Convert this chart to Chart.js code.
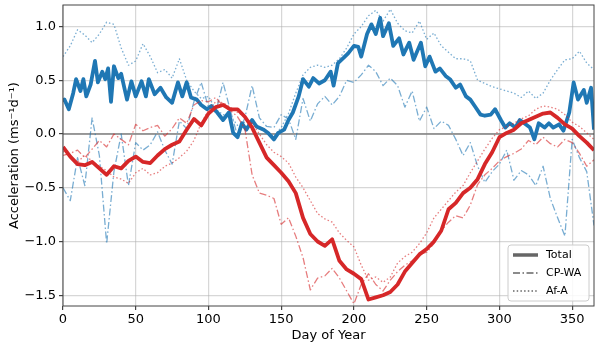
<!DOCTYPE html>
<html>
<head>
<meta charset="utf-8">
<script src="https://cdn.jsdelivr.net/npm/chart.js@4/dist/chart.umd.min.js"></script>
<style>
  html, body { margin: 0; padding: 0; background: #fff; }
  #chart { display: block; }
</style>
</head>
<body>
<canvas id="chart" width="600" height="348"></canvas>
<script>
  // day of year, sampled every 5 days (components and red total)
  const days = [];
  for (let d = 0; d <= 365; d += 5) days.push(d);

  // blue total read at finer spacing
  const blueTotalDays = [
    0, 1, 4, 7, 9, 12, 14, 16, 19, 22, 24, 27, 29, 31, 33, 35, 38, 40, 44, 47,
    50, 54, 57, 59, 63, 67, 71, 75, 79, 82, 85, 88, 92, 95, 99, 102, 106, 110, 114, 117,
    120, 123, 126, 130, 133, 138, 141, 145, 148, 152, 155, 158, 162, 165, 169, 172, 176, 180, 184, 186,
    189, 193, 196, 200, 203, 205, 209, 212, 215, 218, 220, 224, 227, 231, 234, 238, 241, 246, 249, 252,
    256, 259, 263, 266, 270, 273, 277, 280, 283, 287, 290, 294, 297, 301, 304, 307, 311, 314, 318, 321,
    324, 327, 331, 334, 337, 341, 344, 348, 351, 354, 358, 360, 363, 365
  ];
  const blueTotal = [
    0.30, 0.32, 0.23, 0.38, 0.51, 0.40, 0.51, 0.35, 0.46, 0.68, 0.48, 0.58, 0.51, 0.61, 0.30, 0.63, 0.52, 0.56, 0.32, 0.49,
    0.35, 0.49, 0.35, 0.51, 0.37, 0.43, 0.34, 0.29, 0.48, 0.35, 0.48, 0.34, 0.32, 0.27, 0.23, 0.26, 0.20, 0.13, 0.20, 0.01,
    -0.03, 0.10, 0.04, 0.13, 0.07, 0.04, 0.01, -0.05, 0.01, 0.04, 0.13, 0.20, 0.35, 0.51, 0.44, 0.52, 0.47, 0.50, 0.58, 0.45,
    0.66, 0.71, 0.75, 0.82, 0.81, 0.72, 0.93, 1.02, 0.93, 1.08, 0.91, 1.03, 0.82, 0.89, 0.74, 0.85, 0.69, 0.85, 0.63, 0.72,
    0.58, 0.61, 0.54, 0.51, 0.43, 0.46, 0.35, 0.32, 0.26, 0.18, 0.17, 0.18, 0.23, 0.13, 0.06, 0.10, 0.06, 0.13, 0.09, 0.06,
    -0.05, 0.10, 0.06, 0.10, 0.06, 0.09, 0.03, 0.20, 0.48, 0.32, 0.41, 0.29, 0.43, 0.04
  ];
  const blueCpWa = [
    -0.50, -0.62, -0.22, -0.48, 0.15, -0.20, -1.02, -0.35, 0.00, -0.48,
    -0.08, -0.15, -0.10, 0.02, -0.15, -0.28, 0.12, 0.05, 0.30, 0.48,
    0.25, 0.20, 0.48, 0.22, -0.02, 0.15, 0.45, 0.15, 0.07, 0.06,
    0.18, 0.14, -0.05, 0.33, 0.12, 0.28, 0.35, 0.27, 0.35, 0.50,
    0.48, 0.55, 0.64, 0.58, 0.45, 0.52, 0.45, 0.25, 0.40, 0.12,
    0.25, 0.05, 0.12, 0.08, -0.05, -0.20, -0.08, -0.30, -0.45, -0.35,
    -0.28, -0.15, -0.43, -0.34, -0.38, -0.48, -0.30, -0.60, -0.78, -0.95,
    -0.05, -0.22, -0.35, -0.85
  ];
  const blueAfA = [
    0.72, 0.82, 0.97, 0.92, 0.85, 0.93, 1.04, 1.02, 0.80, 0.64,
    0.68, 0.84, 0.72, 0.57, 0.60, 0.52, 0.70, 0.50, 0.40, 0.33,
    0.35, 0.23, 0.18, 0.17, 0.08, 0.11, 0.13, 0.06, 0.02, -0.02,
    0.06, 0.19, 0.38, 0.55, 0.62, 0.64, 0.62, 0.64, 0.70, 0.80,
    0.93, 1.00, 1.10, 1.15, 1.05, 1.16, 1.03, 0.96, 0.94, 1.05,
    0.88, 0.94, 0.82, 0.76, 0.70, 0.70, 0.68, 0.50, 0.47, 0.44,
    0.42, 0.40, 0.38, 0.34, 0.40, 0.33, 0.38, 0.50, 0.60, 0.69,
    0.70, 0.77, 0.66, 0.60
  ];
  const redTotal = [
    -0.12, -0.21, -0.28, -0.29, -0.26, -0.32, -0.38, -0.30, -0.32, -0.25,
    -0.21, -0.26, -0.27, -0.20, -0.14, -0.10, -0.07, 0.04, 0.14, 0.08,
    0.19, 0.25, 0.27, 0.23, 0.23, 0.16, 0.06, -0.08, -0.22, -0.29,
    -0.36, -0.44, -0.55, -0.78, -0.93, -1.00, -1.04, -0.98, -1.18, -1.26,
    -1.30, -1.35, -1.54, -1.52, -1.50, -1.47, -1.40, -1.28, -1.20, -1.12,
    -1.07, -1.00, -0.90, -0.70, -0.64, -0.55, -0.50, -0.42, -0.28, -0.17,
    -0.03, 0.01, 0.04, 0.10, 0.13, 0.16, 0.19, 0.20, 0.15, 0.09,
    0.05, -0.02, -0.08, -0.15
  ];
  const redCpWa = [
    -0.20, -0.18, -0.15, -0.22, -0.14, -0.06, -0.12, 0.00, -0.05, -0.10,
    0.09, 0.03, 0.06, 0.08, -0.02, 0.05, 0.15, 0.10, 0.27, 0.31,
    0.30, 0.34, 0.26, 0.22, 0.16, 0.05, -0.38, -0.55, -0.57, -0.60,
    -0.84, -0.78, -0.95, -1.15, -1.45, -1.34, -1.32, -1.25, -1.34, -1.46,
    -1.58, -1.40, -1.30, -1.40, -1.46, -1.36, -1.28, -1.22, -1.18, -1.12,
    -1.10, -1.02, -0.90, -0.82, -0.76, -0.78, -0.66, -0.47, -0.38, -0.32,
    -0.25, -0.21, -0.18, -0.14, -0.06, -0.10, -0.03, -0.09, -0.12, -0.05,
    -0.08, -0.18, -0.30, -0.24
  ];
  const redAfA = [
    -0.16, -0.22, -0.26, -0.20, -0.25, -0.30, -0.34, -0.40, -0.42, -0.46,
    -0.36, -0.32, -0.38, -0.36, -0.30, -0.27, -0.22, -0.16, -0.06, 0.10,
    0.22, 0.30, 0.29, 0.25, 0.20, 0.16, 0.10, 0.00, -0.10, -0.17,
    -0.21, -0.27, -0.40, -0.50, -0.62, -0.74, -0.79, -0.82, -0.92, -0.99,
    -1.05, -1.22, -1.36, -1.33, -1.38, -1.33, -1.20, -1.14, -1.10, -1.02,
    -0.92, -0.78, -0.70, -0.62, -0.54, -0.48, -0.36, -0.25, -0.14, -0.04,
    0.04, 0.07, 0.10, 0.14, 0.17, 0.23, 0.26, 0.25, 0.23, 0.18,
    0.11, 0.07, 0.01, -0.05
  ];

  const legendLabels = ["Total", "CP-WA", "Af-A"];

  const BLUE = "#1f77b4", RED = "#d62728";
  const BLUE_LIGHT = "rgba(31,119,180,0.6)", RED_LIGHT = "rgba(214,39,40,0.6)";
  const DASHDOT = [7, 2.5, 1.5, 2.5];
  const DOTTED = [1.5, 2.2];
  const FONT = "'DejaVu Sans', sans-serif";

  function series(xs, values, color, width, dash, order) {
    return {
      data: xs.map((d, i) => ({ x: d, y: values[i] })),
      borderColor: color,
      borderWidth: width,
      borderDash: dash,
      borderJoinStyle: "round",
      pointRadius: 0,
      tension: 0,
      fill: false,
      order
    };
  }

  const frameAndZero = {
    id: "frameAndZero",
    beforeDatasetsDraw(chart) {
      const { ctx, chartArea: a, scales: { y } } = chart;
      const y0 = y.getPixelForValue(0);
      ctx.save();
      ctx.strokeStyle = "#808080";
      ctx.lineWidth = 1.5;
      ctx.beginPath();
      ctx.moveTo(a.left, y0);
      ctx.lineTo(a.right, y0);
      ctx.stroke();
      ctx.restore();
    },
    afterDraw(chart) {
      const { ctx, chartArea: a } = chart;
      ctx.save();
      ctx.strokeStyle = "#444";
      ctx.lineWidth = 1;
      ctx.strokeRect(a.left, a.top, a.right - a.left, a.bottom - a.top);

      // legend, lower right inside the axes
      const bw = 81, bh = 56;
      const bx = a.right - bw - 5, by = a.bottom - bh - 5;
      ctx.fillStyle = "rgba(255,255,255,0.85)";
      ctx.strokeStyle = "#cccccc";
      ctx.beginPath();
      ctx.roundRect(bx, by, bw, bh, 3);
      ctx.fill();
      ctx.stroke();

      const styles = [[3.5, []], [1.5, DASHDOT], [1.5, DOTTED]];
      ctx.font = "11px " + FONT;
      ctx.textBaseline = "middle";
      legendLabels.forEach((lab, i) => {
        const ly = by + 10 + i * 18;
        ctx.strokeStyle = "#666";
        ctx.lineWidth = styles[i][0];
        ctx.setLineDash(styles[i][1]);
        ctx.beginPath();
        ctx.moveTo(bx + 5, ly);
        ctx.lineTo(bx + 30, ly);
        ctx.stroke();
        ctx.setLineDash([]);
        ctx.fillStyle = "#000";
        ctx.fillText(lab, bx + 38, ly);
      });
      ctx.restore();
    }
  };

  const fmt = v => (Math.abs(v) < 1e-9 ? "0.0" : v.toFixed(1).replace("-", "\u2212"));

  new Chart(document.getElementById("chart"), {
    type: "line",
    data: {
      datasets: [
        series(days, blueCpWa, BLUE_LIGHT, 1.3, DASHDOT, 6),
        series(days, blueAfA, BLUE_LIGHT, 1.3, DOTTED, 5),
        series(blueTotalDays, blueTotal, BLUE, 3.8, [], 4),
        series(days, redCpWa, RED_LIGHT, 1.3, DASHDOT, 3),
        series(days, redAfA, RED_LIGHT, 1.3, DOTTED, 2),
        series(days, redTotal, RED, 3.8, [], 1)
      ]
    },
    options: {
      responsive: false,
      animation: false,
      devicePixelRatio: 1,
      layout: { padding: { top: 5, right: 6, left: 0, bottom: 0 } },
      plugins: { legend: { display: false }, tooltip: { enabled: false } },
      scales: {
        x: {
          type: "linear",
          min: 0,
          max: 365,
          ticks: { stepSize: 50, includeBounds: false, color: "#000", padding: 2, maxRotation: 0,
                   font: { family: FONT, size: 13 } },
          grid: { color: "rgba(176,176,176,0.5)", lineWidth: 1.2, tickLength: 4, tickColor: "#444" },
          border: { display: false },
          title: { display: true, text: "Day of Year", color: "#000", padding: { top: 0, bottom: 5 },
                   font: { family: FONT, size: 13 } },
          afterFit(scale) {
            scale.height = 42;
            scale.paddingLeft = 0;
            scale.paddingRight = 0;
          }
        },
        y: {
          min: -1.6,
          max: 1.2,
          ticks: { stepSize: 0.5, includeBounds: false, color: "#000", padding: 3, callback: fmt,
                   font: { family: FONT, size: 13 } },
          grid: { color: "rgba(176,176,176,0.5)", lineWidth: 1.2, tickLength: 4, tickColor: "#444" },
          border: { display: false },
          title: { display: true, text: "Acceleration (ms\u207B\u00B9d\u207B\u00B9)", color: "#000",
                   padding: { top: 7, bottom: 0 }, font: { family: FONT, size: 13 } },
          afterFit(scale) {
            scale.width = 63;
            scale.paddingTop = 0;
            scale.paddingBottom = 0;
          }
        }
      }
    },
    plugins: [frameAndZero]
  });
</script>
</body>
</html>
